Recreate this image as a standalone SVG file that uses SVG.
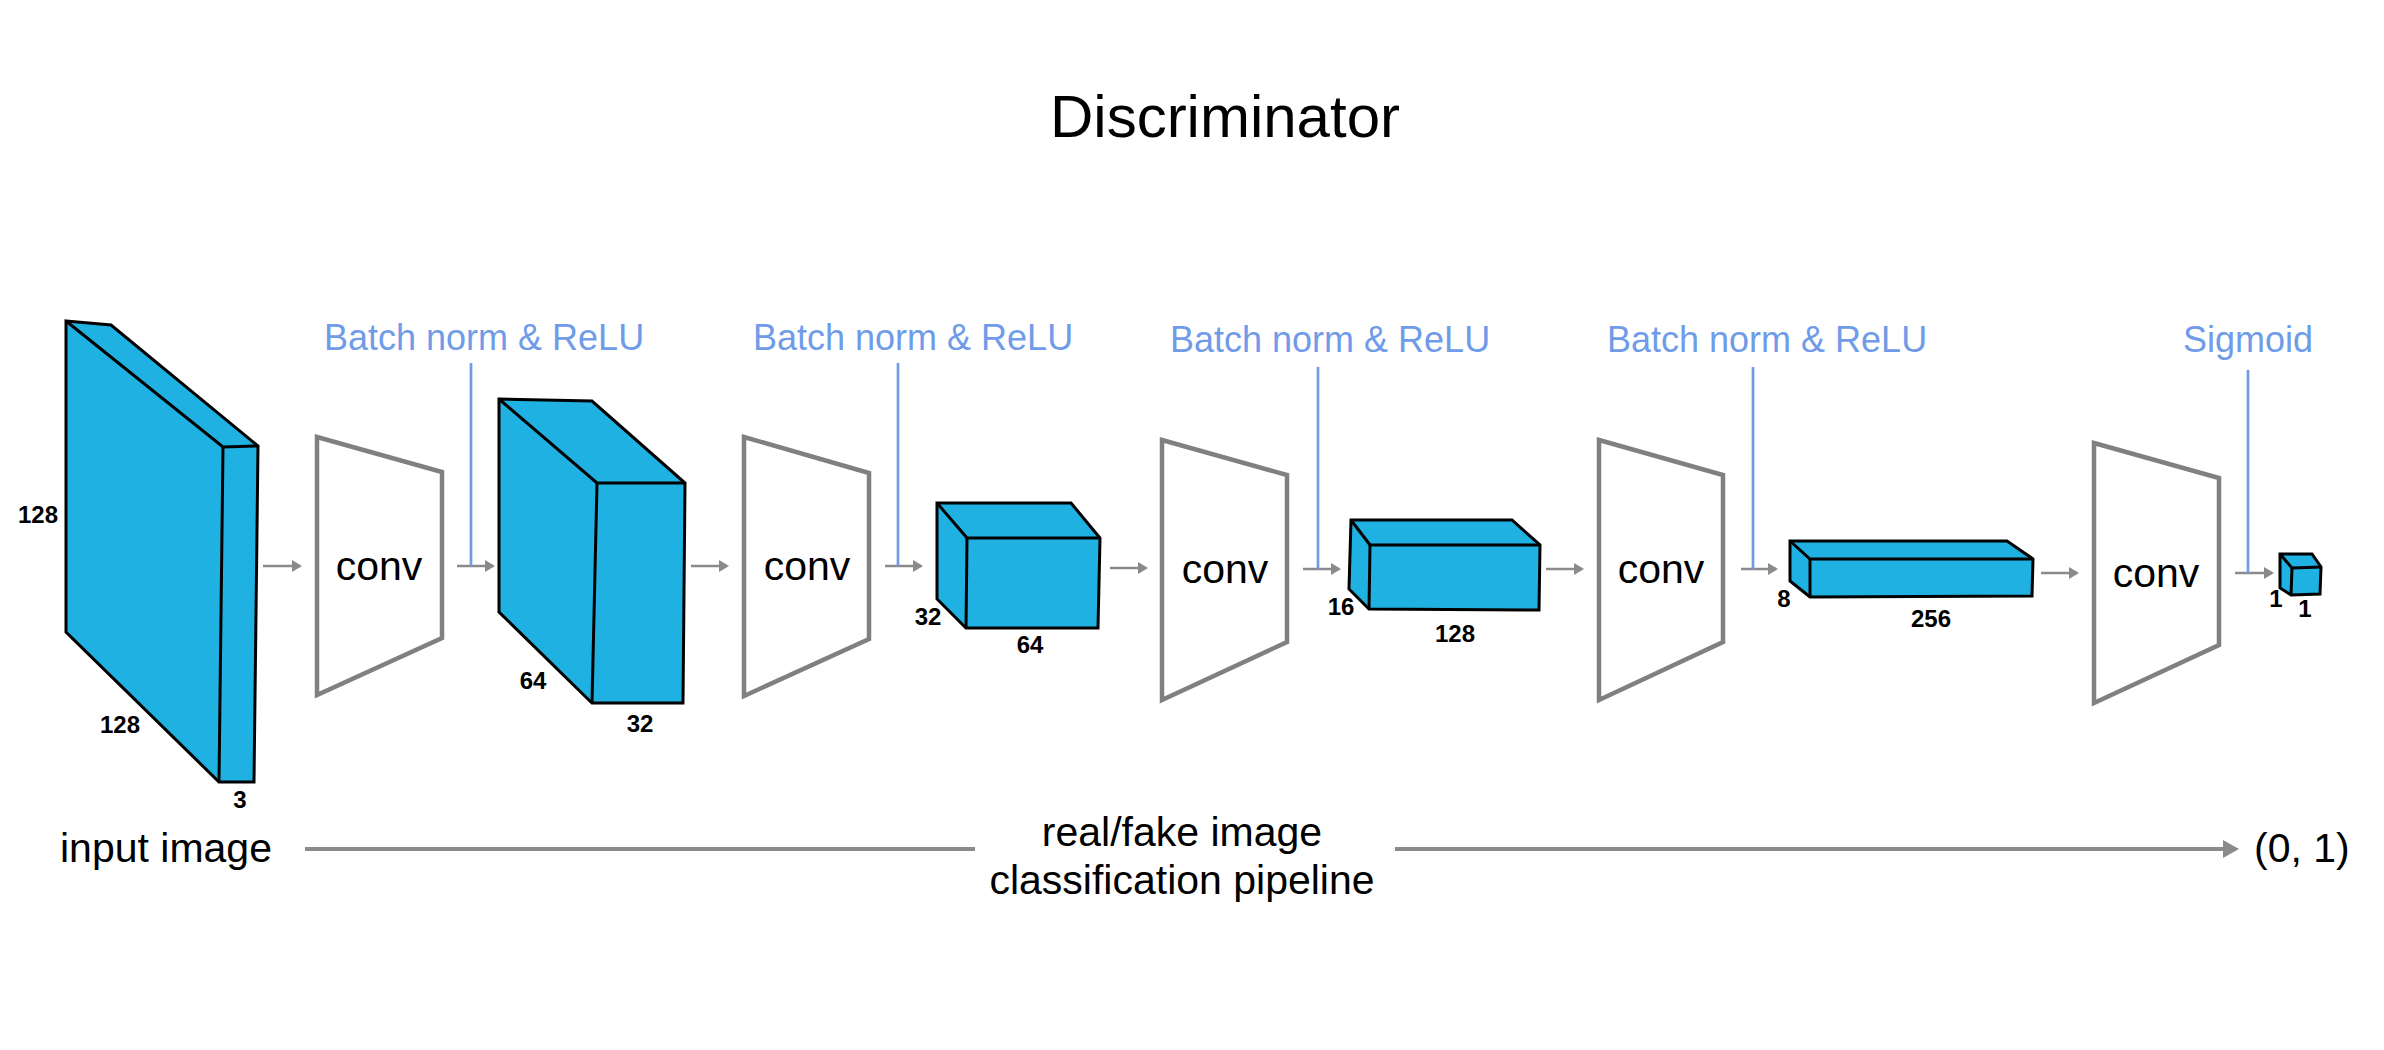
<svg xmlns="http://www.w3.org/2000/svg" width="2384" height="1050" viewBox="0 0 2384 1050">
<style>
.cube{fill:#1FB1E1;stroke:#000;stroke-width:3;stroke-linejoin:miter}
.edge{fill:none;stroke:#000;stroke-width:3}
.conv{fill:#fff;stroke:#808080;stroke-width:4.5}
.ct{font-family:"Liberation Sans",Arial,sans-serif;font-size:41px;fill:#000;text-anchor:middle}
.dim{font-family:"Liberation Sans",Arial,sans-serif;font-size:24px;font-weight:bold;fill:#000;text-anchor:middle}
.bn{font-family:"Liberation Sans",Arial,sans-serif;font-size:36px;fill:#6F9BE8}
.lbl{font-family:"Liberation Sans",Arial,sans-serif;font-size:41px;fill:#000}
.arr{stroke:#8A8A8A;stroke-width:2.7;fill:none}
.blue{stroke:#6F9BE8;stroke-width:2.7;fill:none}
.main{stroke:#8A8A8A;stroke-width:4;fill:none}
</style>
<defs>
<marker id="ah" markerUnits="userSpaceOnUse" viewBox="0 0 10 12" refX="8" refY="6" markerWidth="10" markerHeight="12" orient="auto">
<path d="M0,0 L10,6 L0,12 z" fill="#8A8A8A"/>
</marker>
<marker id="ahb" markerUnits="userSpaceOnUse" viewBox="0 0 16 18" refX="13" refY="9" markerWidth="16" markerHeight="18" orient="auto">
<path d="M0,0 L16,9 L0,18 z" fill="#8A8A8A"/>
</marker>
</defs>
<rect width="2384" height="1050" fill="#fff"/>
<text x="1225" y="137" font-family="Liberation Sans,Arial,sans-serif" font-size="60" text-anchor="middle" fill="#000">Discriminator</text>

<g id="input-volume">
<polygon class="cube" points="66,321 111,325 258,446 254,782 219,782 66,632"/>
<polyline class="edge" points="66,321 223,447 258,446"/>
<line class="edge" x1="223" y1="447" x2="219" y2="782"/>
<text class="dim" x="38" y="523">128</text>
<text class="dim" x="120" y="733">128</text>
<text class="dim" x="240" y="808">3</text>
</g>

<g id="conv1"><polygon class="conv" points="317,437 442,472 442,638 317,695"/><text class="ct" x="379" y="580">conv</text></g>

<g id="volume2">
<polygon class="cube" points="499,399 592,401 685,483 683,703 592,703 499,612"/>
<polyline class="edge" points="499,399 597,483 685,483"/>
<line class="edge" x1="597" y1="483" x2="592" y2="703"/>
<text class="dim" x="533" y="689">64</text>
<text class="dim" x="640" y="732">32</text>
</g>

<g id="conv2"><polygon class="conv" points="744,437 869,473 869,639 744,696"/><text class="ct" x="807" y="580">conv</text></g>

<g id="volume3">
<polygon class="cube" points="937,503 1071,503 1100,538 1098,628 966,628 937,599"/>
<polyline class="edge" points="937,503 967,538 1100,538"/>
<line class="edge" x1="967" y1="538" x2="966" y2="628"/>
<text class="dim" x="928" y="625">32</text>
<text class="dim" x="1030" y="653">64</text>
</g>

<g id="conv3"><polygon class="conv" points="1162,440 1287,475 1287,642 1162,700"/><text class="ct" x="1225" y="583">conv</text></g>

<g id="volume4">
<polygon class="cube" points="1351,520 1512,520 1540,545 1539,610 1369,609 1349,589"/>
<polyline class="edge" points="1351,520 1370,545 1540,545"/>
<line class="edge" x1="1370" y1="545" x2="1369" y2="609"/>
<text class="dim" x="1341" y="615">16</text>
<text class="dim" x="1455" y="642">128</text>
</g>

<g id="conv4"><polygon class="conv" points="1599,440 1723,475 1723,642 1599,700"/><text class="ct" x="1661" y="583">conv</text></g>

<g id="volume5">
<polygon class="cube" points="1790,541 2007,541 2033,559 2032,596 1810,597 1790,581"/>
<polyline class="edge" points="1790,541 1810,559 2033,559"/>
<line class="edge" x1="1810" y1="559" x2="1810" y2="597"/>
<text class="dim" x="1784" y="607">8</text>
<text class="dim" x="1931" y="627">256</text>
</g>

<g id="conv5"><polygon class="conv" points="2094,443 2219,478 2219,645 2094,703"/><text class="ct" x="2156" y="587">conv</text></g>

<g id="output">
<polygon class="cube" points="2280,554 2312,554 2321,567 2320,594 2291,595 2280,588"/>
<polyline class="edge" points="2280,554 2292,568 2321,567"/>
<line class="edge" x1="2292" y1="568" x2="2291" y2="595"/>
<text class="dim" x="2276" y="607">1</text>
<text class="dim" x="2305" y="617">1</text>
</g>

<g id="activations">
<text class="bn" x="324" y="350">Batch norm &amp; ReLU</text>
<text class="bn" x="753" y="350">Batch norm &amp; ReLU</text>
<text class="bn" x="1170" y="352">Batch norm &amp; ReLU</text>
<text class="bn" x="1607" y="352">Batch norm &amp; ReLU</text>
<text class="bn" x="2313" y="352" text-anchor="end">Sigmoid</text>
</g>

<g id="connectors">
<line class="arr" x1="263" y1="566" x2="300" y2="566" marker-end="url(#ah)"/>
<line class="arr" x1="457" y1="566" x2="493" y2="566" marker-end="url(#ah)"/>
<line class="arr" x1="691" y1="566" x2="727" y2="566" marker-end="url(#ah)"/>
<line class="arr" x1="885" y1="566" x2="921" y2="566" marker-end="url(#ah)"/>
<line class="arr" x1="1110" y1="568" x2="1146" y2="568" marker-end="url(#ah)"/>
<line class="arr" x1="1303" y1="569" x2="1339" y2="569" marker-end="url(#ah)"/>
<line class="arr" x1="1546" y1="569" x2="1582" y2="569" marker-end="url(#ah)"/>
<line class="arr" x1="1741" y1="569" x2="1776" y2="569" marker-end="url(#ah)"/>
<line class="arr" x1="2041" y1="573" x2="2077" y2="573" marker-end="url(#ah)"/>
<line class="arr" x1="2235" y1="573" x2="2272" y2="573" marker-end="url(#ah)"/>
<line class="blue" x1="471" y1="363" x2="471" y2="566"/>
<line class="blue" x1="898" y1="363" x2="898" y2="566"/>
<line class="blue" x1="1318" y1="367" x2="1318" y2="569"/>
<line class="blue" x1="1753" y1="367" x2="1753" y2="569"/>
<line class="blue" x1="2248" y1="370" x2="2248" y2="573"/>
<line class="main" x1="305" y1="849" x2="975" y2="849"/>
<line class="main" x1="1395" y1="849" x2="2236" y2="849" marker-end="url(#ahb)"/>
</g>

<g id="pipeline-labels">
<text class="lbl" x="60" y="862">input image</text>
<text class="lbl" x="1182" y="846" text-anchor="middle">real/fake image</text>
<text class="lbl" x="1182" y="894" text-anchor="middle">classification pipeline</text>
<text class="lbl" x="2254" y="862">(0, 1)</text>
</g>
</svg>
